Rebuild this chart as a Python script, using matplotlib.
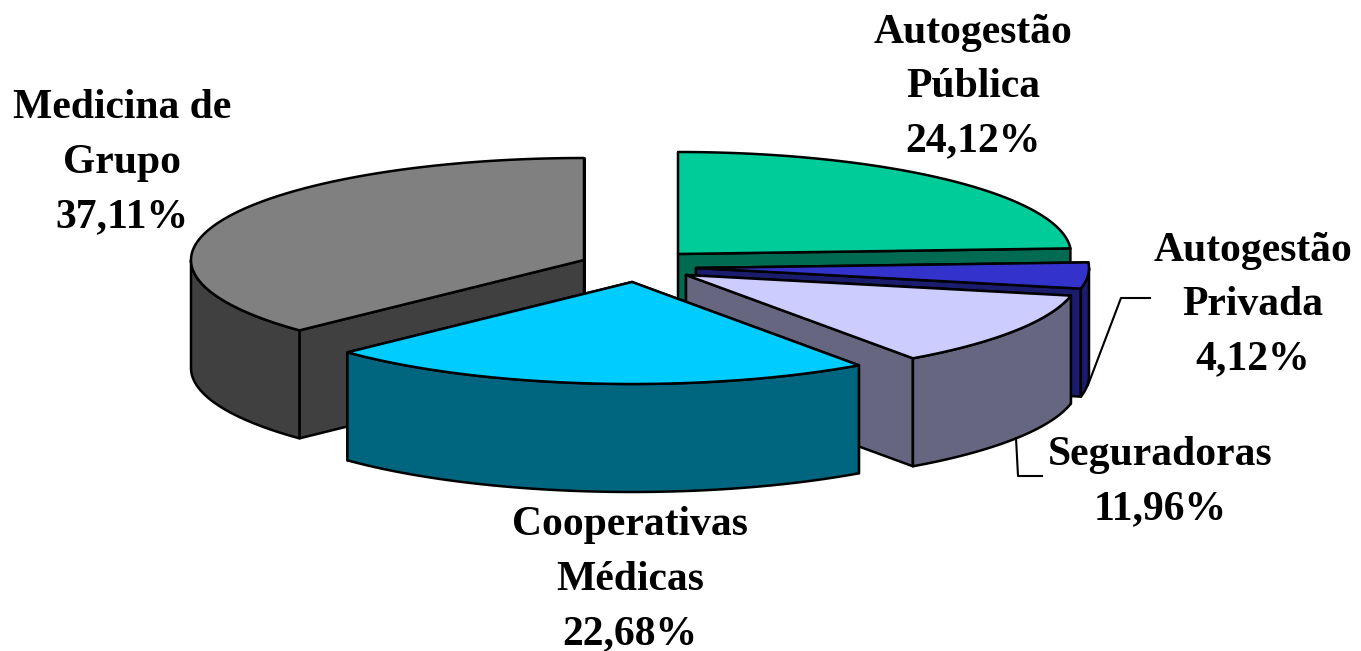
import numpy as np
import matplotlib
matplotlib.use('Agg')
import matplotlib.pyplot as plt
from matplotlib.patches import Polygon

# slices, clockwise from 12 o'clock
names = [['Autogestão', 'Pública'], ['Autogestão', 'Privada'], ['Seguradoras'],
         ['Cooperativas', 'Médicas'], ['Medicina de', 'Grupo']]
values = [24.12, 4.12, 11.96, 22.68, 37.11]

top_colors = ['#00CC99', '#3333CC', '#CCCCFF', '#00CCFF', '#808080']
side_colors = ['#006B50', '#1C1C6E', '#666680', '#006680', '#404040']

# pixel position of each exploded slice apex
apex = [(678, 254), (696, 268), (686, 275), (632, 282), (584, 260)]
label_pos = [(973, 28), (1253, 246), (1160, 450), (630, 521), (122, 104)]

# fake 3d: ellipse radii and extrusion height, pixels
RX, RY, DEPTH = 393, 102, 108
LINE_H = 54.3
# order slices are painted in, back to front
draw_order = [4, 0, 1, 2, 3]


def rim(cx, cy, t):
    t = np.radians(t)
    return np.column_stack([cx + RX*np.sin(t), cy - RY*np.cos(t)])


def add_poly(ax, pts, color):
    ax.add_patch(Polygon(pts, closed=True, facecolor=color, edgecolor='black',
                         linewidth=1.8, joinstyle='round'))


fig = plt.figure(figsize=(13.61, 6.51), dpi=100)
ax = fig.add_axes([0, 0, 1, 1])
ax.set_xlim(0, 1361)
ax.set_ylim(651, 0)
ax.axis('off')

edges = np.concatenate([[0], np.cumsum(values)]) / np.sum(values) * 360

for i in draw_order:
    cx, cy = apex[i]
    t0, t1 = edges[i], edges[i+1]
    arc = rim(cx, cy, np.linspace(t0, t1, 120))
    down = np.array([0, DEPTH])

    # cut faces
    for end in (arc[0], arc[-1]):
        face = np.array([(cx, cy), end])
        add_poly(ax, np.vstack([face, face[::-1] + down]), side_colors[i])

    # outer wall, only the part that faces the viewer
    w0, w1 = max(t0, 90), min(t1, 270)
    if w1 > w0:
        wall = rim(cx, cy, np.linspace(w0, w1, 120))
        add_poly(ax, np.vstack([wall, wall[::-1] + down]), side_colors[i])

    add_poly(ax, np.vstack([[(cx, cy)], arc]), top_colors[i])

# leader lines
ax.plot([1150, 1121, 1088], [298, 298, 385], color='black', lw=1.5)
ax.plot([1016, 1018, 1042], [438, 476, 476], color='black', lw=1.5)

for i in range(len(values)):
    lines = names[i] + [f'{values[i]:.2f}%'.replace('.', ',')]
    x, y = label_pos[i]
    for k, line in enumerate(lines):
        ax.text(x, y + k*LINE_H, line, ha='center', va='center_baseline',
                family='Liberation Serif', fontweight='bold', fontsize=30, color='black')

fig.savefig('out.png', dpi=100)
